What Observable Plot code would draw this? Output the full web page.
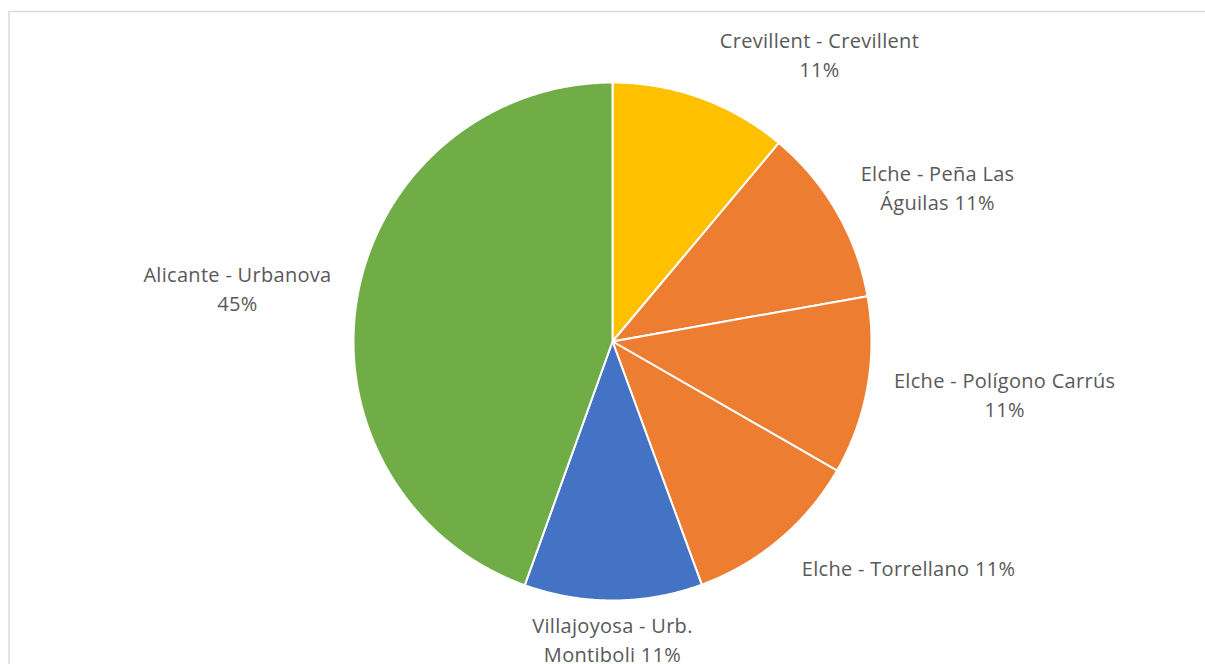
<!DOCTYPE html>
<html>
<head>
<meta charset="utf-8">
<script src="https://cdn.jsdelivr.net/npm/d3@7"></script>
<script src="https://cdn.jsdelivr.net/npm/@observablehq/plot@0.6"></script>
<style>
  html, body { margin: 0; padding: 0; background: #ffffff; }
  #chart svg { display: block; }
  #chart svg text { letter-spacing: 0.3px; }
</style>
</head>
<body>
<div id="chart"></div>
<script>
// ---- data ----
const categories = [
  "Crevillent - Crevillent",
  "Elche - Peña Las Águilas",
  "Elche - Polígono Carrús",
  "Elche - Torrellano",
  "Villajoyosa - Urb. Montiboli",
  "Alicante - Urbanova"
];
const shares = [11.1, 11.1, 11.1, 11.1, 11.1, 44.5];
const percentLabels = ["11%", "11%", "11%", "11%", "11%", "45%"];
const labelLines = [
  ["Crevillent - Crevillent", "11%"],
  ["Elche - Peña Las", "Águilas 11%"],
  ["Elche - Polígono Carrús", "11%"],
  ["Elche - Torrellano 11%"],
  ["Villajoyosa - Urb.", "Montiboli 11%"],
  ["Alicante - Urbanova", "45%"]
];
const sliceColors = ["#FFC000", "#ED7D31", "#ED7D31", "#ED7D31", "#4472C4", "#70AD47"];

// ---- layout (label anchors in pie-radius units, x right / y up) ----
const labelX = [0.799, 1.255, 1.514, 1.143, 0.0, -1.448];
const labelY = [1.112, 0.601, -0.200, -0.870, -1.144, 0.209];

// ---- build slice polygons from the shares ----
const total = d3.sum(shares);
const slices = [];
let start = 0;
shares.forEach((v, i) => {
  const end = start + (v / total) * 2 * Math.PI;
  const steps = Math.max(2, Math.ceil((end - start) / (Math.PI / 360)));
  slices.push({slice: i, color: sliceColors[i], x: 0, y: 0});
  for (let k = 0; k <= steps; k++) {
    const a = start + (end - start) * k / steps;
    slices.push({slice: i, color: sliceColors[i], x: Math.sin(a), y: Math.cos(a)});
  }
  start = end;
});

const labels = categories.map((c, i) => ({
  name: c,
  text: labelLines[i].join("\n"),
  x: labelX[i],
  y: labelY[i]
}));

const chart = Plot.plot({
  width: 1205,
  height: 664,
  margin: 0,
  x: {domain: [-1, 1], range: [353, 871], axis: null},
  y: {domain: [-1, 1], range: [600, 82], axis: null},
  color: {type: "identity"},
  style: {background: "#ffffff"},
  marks: [
    Plot.frame({stroke: "#d9d9d9", strokeWidth: 1.5, insetLeft: 8.5, insetTop: 11, insetRight: -10, insetBottom: -10}),
    Plot.line(slices, {
      x: "x", y: "y", z: "slice",
      fill: "color",
      stroke: "#ffffff",
      strokeWidth: 2,
      strokeLinejoin: "round",
      curve: "linear-closed"
    }),
    Plot.text(labels, {
      x: "x", y: "y", text: "text",
      fill: "#595959",
      fontSize: 20,
      fontFamily: "Open Sans",
      lineHeight: 1.45,
      textAnchor: "middle"
    })
  ]
});
document.getElementById("chart").appendChild(chart);
</script>
</body>
</html>
